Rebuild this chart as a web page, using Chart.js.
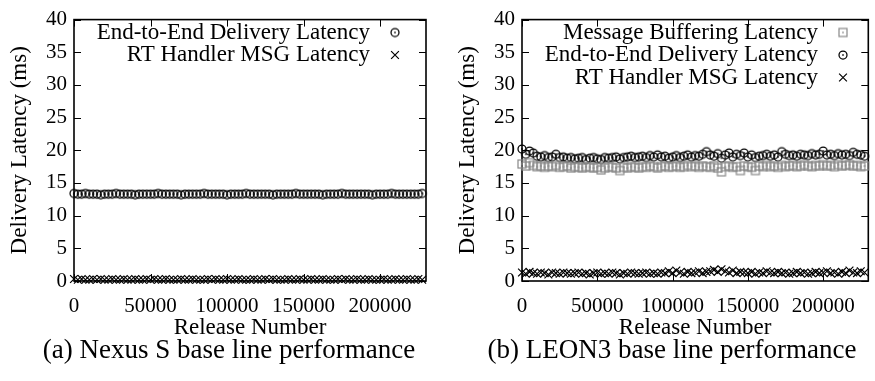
<!DOCTYPE html>
<html>
<head>
<meta charset="utf-8">
<script src="https://cdn.jsdelivr.net/npm/chart.js@4.4.1/dist/chart.umd.min.js"></script>
<style>
  html, body { margin: 0; padding: 0; background: #fff; }
  #wrap { position: relative; width: 875px; height: 381px; overflow: hidden; }
  #wrap canvas { position: absolute; top: 0; }
  #nexus { left: 0; }
  #leon { left: 448px; }
  .cap {
    position: absolute; top: 333px; white-space: nowrap;
    font-family: "Liberation Serif", serif; font-size: 27px; line-height: 32px;
    color: #000; transform: translateX(-50%);
  }
</style>
</head>
<body>
<div id="wrap">
  <canvas id="nexus" width="448" height="381"></canvas>
  <canvas id="leon" width="427" height="381"></canvas>
  <div class="cap" style="left:229px">(a) Nexus S base line performance</div>
  <div class="cap" style="left:672px">(b) LEON3 base line performance</div>
</div>
<script>
// Sampled release numbers (one sample every 2500 releases)
const releaseNumbers = Array.from({ length: 92 }, (_, i) => i * 2500);

const xTickValues = [0, 50000, 100000, 150000, 200000];
const yTickValues = [0, 5, 10, 15, 20, 25, 30, 35, 40];

// Nexus S latencies (ms)
const nexusEndToEnd = [
  13.4, 13.3, 13.3, 13.4, 13.3, 13.3, 13.3, 13.2, 13.3, 13.3,
  13.3, 13.4, 13.3, 13.3, 13.3, 13.3, 13.2, 13.3, 13.3, 13.3,
  13.3, 13.3, 13.4, 13.3, 13.3, 13.3, 13.3, 13.3, 13.2, 13.3,
  13.3, 13.3, 13.3, 13.3, 13.4, 13.3, 13.3, 13.3, 13.3, 13.3,
  13.2, 13.3, 13.3, 13.3, 13.3, 13.4, 13.3, 13.3, 13.3, 13.3,
  13.3, 13.3, 13.2, 13.3, 13.3, 13.3, 13.3, 13.3, 13.4, 13.3,
  13.3, 13.3, 13.3, 13.3, 13.3, 13.2, 13.3, 13.3, 13.3, 13.3,
  13.4, 13.3, 13.3, 13.3, 13.3, 13.3, 13.3, 13.3, 13.2, 13.3,
  13.3, 13.3, 13.3, 13.4, 13.3, 13.3, 13.3, 13.3, 13.3, 13.3,
  13.3, 13.4
];
const nexusHandler = [
  0.3, 0.2, 0.3, 0.2, 0.2, 0.3, 0.2, 0.3, 0.2, 0.2,
  0.3, 0.2, 0.2, 0.3, 0.2, 0.2, 0.3, 0.2, 0.2, 0.3,
  0.2, 0.3, 0.2, 0.2, 0.3, 0.2, 0.2, 0.2, 0.3, 0.2,
  0.2, 0.3, 0.2, 0.2, 0.2, 0.3, 0.2, 0.3, 0.2, 0.2,
  0.3, 0.2, 0.2, 0.3, 0.2, 0.2, 0.2, 0.3, 0.2, 0.2,
  0.3, 0.2, 0.3, 0.2, 0.2, 0.2, 0.3, 0.2, 0.2, 0.3,
  0.2, 0.2, 0.3, 0.2, 0.2, 0.3, 0.2, 0.2, 0.2, 0.3,
  0.2, 0.3, 0.2, 0.2, 0.3, 0.2, 0.2, 0.3, 0.2, 0.2,
  0.2, 0.3, 0.2, 0.2, 0.3, 0.2, 0.2, 0.3, 0.2, 0.2,
  0.3, 0.2
];

// LEON3 latencies (ms)
const leonBuffering = [
  17.9, 17.6, 18.1, 17.7, 17.5, 17.6, 17.4, 17.6, 17.5, 17.7,
  17.4, 17.5, 17.6, 17.3, 17.5, 17.4, 17.3, 17.5, 17.4, 17.3,
  17.4, 17.0, 17.3, 17.5, 17.4, 17.3, 16.9, 17.4, 17.3, 17.5,
  17.4, 17.3, 17.5, 17.4, 17.6, 17.5, 17.3, 17.5, 17.6, 17.4,
  17.5, 17.6, 17.4, 17.5, 17.7, 17.5, 17.6, 17.4, 17.6, 17.5,
  17.4, 17.6, 17.3, 16.7, 17.5, 17.6, 17.4, 17.5, 16.9, 17.6,
  17.5, 17.4, 16.9, 17.6, 17.5, 17.7, 17.5, 17.6, 17.4, 17.7,
  17.5, 17.6, 17.7, 17.5, 17.6, 17.8, 17.6, 17.5, 17.7, 17.6,
  17.8, 17.6, 17.7, 17.5, 17.8, 17.6, 17.7, 17.8, 17.6, 17.7,
  17.5, 17.6
];
const leonEndToEnd = [
  20.2, 19.4, 19.9, 19.6, 19.1, 19.0, 19.2, 18.9, 19.0, 19.4,
  18.9, 19.0, 18.8, 18.9, 18.7, 18.8, 18.9, 18.6, 18.8, 18.9,
  18.7, 18.6, 18.9, 18.8, 18.9, 19.0, 18.7, 18.9, 19.0, 19.1,
  18.9, 19.0, 19.1, 18.9, 19.2, 19.0, 19.3, 19.0, 19.1, 18.8,
  19.0, 19.2, 18.9, 19.1, 19.3, 19.0, 19.2, 19.1, 19.4, 19.8,
  19.3, 19.1, 19.5, 18.8, 19.3, 19.6, 19.0, 19.4, 19.2, 19.6,
  19.0, 19.3, 18.9, 19.1, 19.2, 19.4, 19.1, 19.3, 19.0, 19.8,
  19.4, 19.2, 19.3, 19.1, 19.4, 19.3, 19.2, 19.5, 19.3, 19.4,
  19.9, 19.3, 19.4, 19.2, 19.5, 19.3, 19.4, 19.2, 19.7, 19.4,
  19.3, 19.1
];
const leonHandler = [
  1.3, 1.1, 1.4, 1.2, 1.1, 1.3, 1.2, 1.0, 1.3, 1.2,
  1.1, 1.3, 1.2, 1.1, 1.2, 1.3, 1.1, 1.2, 1.0, 1.2,
  1.3, 1.1, 1.2, 1.1, 1.3, 1.2, 1.0, 1.2, 1.1, 1.3,
  1.2, 1.1, 1.2, 1.3, 1.1, 1.2, 1.1, 1.3, 1.2, 1.5,
  1.2, 1.6, 1.3, 1.1, 1.4, 1.2, 1.3, 1.5, 1.2, 1.4,
  1.5, 1.7, 1.4, 1.8, 1.5, 1.3, 1.6, 1.2, 1.4, 1.3,
  1.2, 1.4, 1.1, 1.3, 1.2, 1.5, 1.3, 1.2, 1.4, 1.2,
  1.3, 1.1, 1.2, 1.4, 1.2, 1.3, 1.1, 1.2, 1.4, 1.2,
  1.3, 1.5, 1.2, 1.3, 1.1, 1.4, 1.2, 1.6, 1.3, 1.2,
  1.5, 1.3
];

const SERIF = '"Liberation Serif", serif';

// Marker glyphs: ring with centre dot, box with centre dot
function ringDot(color) {
  const c = document.createElement('canvas');
  c.width = c.height = 12;
  const g = c.getContext('2d');
  g.strokeStyle = color; g.fillStyle = color; g.lineWidth = 1.25;
  g.beginPath(); g.arc(6, 6, 4, 0, Math.PI * 2); g.stroke();
  g.fillRect(5.25, 5.25, 1.5, 1.5);
  return c;
}
function boxDot(color) {
  const c = document.createElement('canvas');
  c.width = c.height = 12;
  const g = c.getContext('2d');
  g.strokeStyle = color; g.fillStyle = color; g.lineWidth = 1.2;
  g.strokeRect(2, 2, 8, 8);
  g.fillRect(5.25, 5.25, 1.5, 1.5);
  return c;
}
const ringMark = ringDot('#000');
const boxMark = boxDot('#888');

const toPoints = vals => releaseNumbers.map((x, i) => ({ x, y: vals[i] }));

function series(label, vals, style, color) {
  return {
    label, data: toPoints(vals), pointStyle: style,
    pointRadius: 5.5, pointHoverRadius: 5.5, borderWidth: 1.2,
    borderColor: color, backgroundColor: 'transparent',
    showLine: false, clip: false
  };
}

// Box border with inward, mirrored tick marks
const framePlugin = {
  id: 'frame',
  beforeDatasetsDraw(chart) {
    const { ctx, chartArea: a, scales: { x, y } } = chart;
    const len = 7;
    ctx.save();
    ctx.strokeStyle = '#000';
    ctx.lineWidth = 1;
    ctx.beginPath();
    xTickValues.forEach(v => {
      const px = Math.round(x.getPixelForValue(v)) + 0.5;
      ctx.moveTo(px, a.bottom); ctx.lineTo(px, a.bottom - len);
      ctx.moveTo(px, a.top); ctx.lineTo(px, a.top + len);
    });
    yTickValues.forEach(v => {
      const py = Math.round(y.getPixelForValue(v)) + 0.5;
      ctx.moveTo(a.left, py); ctx.lineTo(a.left + len, py);
      ctx.moveTo(a.right, py); ctx.lineTo(a.right - len, py);
    });
    ctx.stroke();
    ctx.lineWidth = 1.6;
    ctx.strokeRect(a.left, a.top, a.right - a.left, a.bottom - a.top);
    ctx.restore();
  }
};

// Key drawn inside the plot: right-aligned label followed by its marker
const keyPlugin = {
  id: 'key',
  afterDatasetsDraw(chart, args, opts) {
    const ctx = chart.ctx;
    ctx.save();
    ctx.font = '23px ' + SERIF;
    ctx.textAlign = 'right';
    ctx.textBaseline = 'middle';
    chart.data.datasets.forEach((ds, i) => {
      const yy = opts.top + i * opts.gap;
      ctx.fillStyle = '#000';
      ctx.fillText(ds.label, opts.textRight, yy);
      ctx.strokeStyle = ds.borderColor;
      ctx.lineWidth = ds.borderWidth;
      Chart.helpers.drawPoint(ctx, {
        pointStyle: ds.pointStyle, radius: ds.pointRadius,
        borderWidth: ds.borderWidth, rotation: 0
      }, opts.markX, yy);
    });
    ctx.restore();
  }
};

function makeChart(id, datasets, canvasWidth) {
  new Chart(document.getElementById(id), {
    type: 'scatter',
    data: { datasets },
    plugins: [framePlugin, keyPlugin],
    options: {
      responsive: false,
      animation: false,
      devicePixelRatio: 1,
      layout: { padding: { top: 18, right: canvasWidth - 426, bottom: 39, left: 0 } },
      plugins: {
        legend: { display: false },
        tooltip: { enabled: false },
        key: { top: 32.5, gap: 22.5, textRight: 370, markX: 395 }
      },
      scales: {
        x: {
          type: 'linear', min: 0, max: 230000,
          grid: { display: false, drawTicks: false },
          border: { display: false },
          afterBuildTicks: s => { s.ticks = xTickValues.map(v => ({ value: v })); },
          afterFit: s => { s.height = 61; },
          ticks: {
            padding: 13, color: '#000', maxRotation: 0, autoSkip: false,
            font: { family: SERIF, size: 21 },
            callback: v => String(v)
          },
          title: {
            display: true, text: 'Release Number', color: '#000',
            font: { family: SERIF, size: 23 }, padding: { top: 0, bottom: 0 }
          }
        },
        y: {
          type: 'linear', min: 0, max: 40,
          grid: { display: false, drawTicks: false },
          border: { display: false },
          afterBuildTicks: s => { s.ticks = yTickValues.map(v => ({ value: v })); },
          afterFit: s => { s.width = 74; },
          ticks: {
            padding: 7, color: '#000',
            font: { family: SERIF, size: 21 }
          },
          title: {
            display: true, text: 'Delivery Latency (ms)', color: '#000',
            font: { family: SERIF, size: 23 }, padding: { top: 6, bottom: 0 }
          }
        }
      }
    }
  });
}

makeChart('nexus', [
  series('End-to-End Delivery Latency', nexusEndToEnd, ringMark, '#000'),
  series('RT Handler MSG Latency', nexusHandler, 'crossRot', '#000')
], 448);

makeChart('leon', [
  series('Message Buffering Latency', leonBuffering, boxMark, '#888'),
  series('End-to-End Delivery Latency', leonEndToEnd, ringMark, '#000'),
  series('RT Handler MSG Latency', leonHandler, 'crossRot', '#000')
], 427);
</script>
</body>
</html>
